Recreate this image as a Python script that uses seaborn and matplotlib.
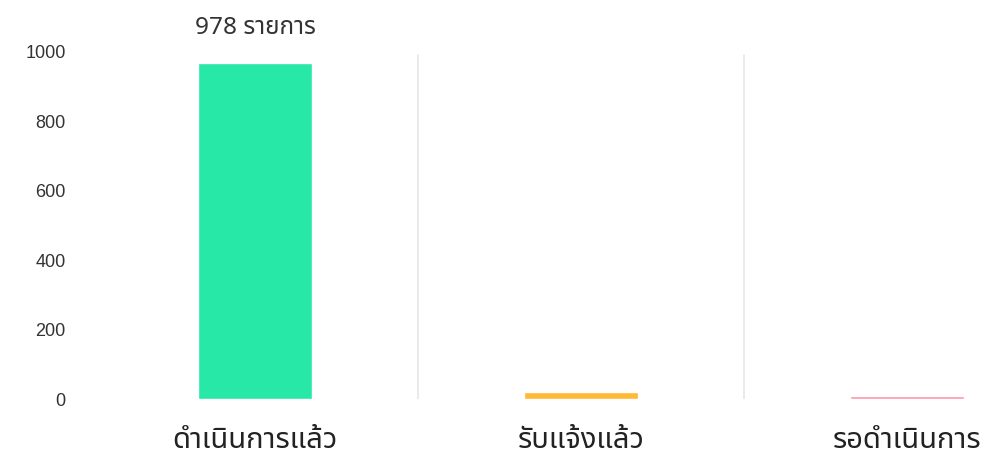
import matplotlib
matplotlib.use("Agg")
import matplotlib.pyplot as plt
import seaborn as sns
import pandas as pd

categories = ["ดำเนินการแล้ว", "รับแจ้งแล้ว", "รอดำเนินการ"]
counts = [968, 20, 8]
colors = ["#27E8A7", "#FFB935", "#FF94A6"]
total_label = "978 รายการ"
yticks = [0, 200, 400, 600, 800, 1000]

sns.set_style("white")
plt.rcParams["font.family"] = ["Noto Sans", "Noto Sans Thai", "DejaVu Sans"]

df = pd.DataFrame({"status": categories, "count": counts})

fig = plt.figure(figsize=(9.97, 4.54), dpi=100)
ax = fig.add_axes([92 / 997, 1 - 399 / 454, (1070 - 92) / 997, (399 - 52) / 454])

sns.barplot(data=df, x="status", y="count", hue="status", palette=colors,
            width=0.35, legend=False, ax=ax, saturation=1)

ax.set_ylim(0, 1000)
ax.set_xlim(-0.5, 2.5)
ax.set_yticks(yticks)
ax.set_yticklabels([str(v) for v in yticks], family=["Liberation Sans", "DejaVu Sans"])
for sp in ax.spines.values():
    sp.set_visible(False)
for xv in [0.5, 1.5]:
    ax.axvline(xv, ymin=0, ymax=0.99, color="#e6e6e6", linewidth=1.2)

ax.tick_params(axis="y", length=0, labelsize=13, labelcolor="#333333", pad=19)
ax.tick_params(axis="x", length=0, labelsize=21, labelcolor="#222222", pad=35.5)
for lbl in ax.get_xticklabels():
    lbl.set_verticalalignment("baseline")
    lbl.set_family(["Noto Sans Thai", "DejaVu Sans"])
ax.set_xlabel("")
ax.set_ylabel("")

ax.text(0, 1068, total_label, ha="center", va="center", fontsize=17.5,
        color="#333333")

fig.savefig("out.png", dpi=100)
